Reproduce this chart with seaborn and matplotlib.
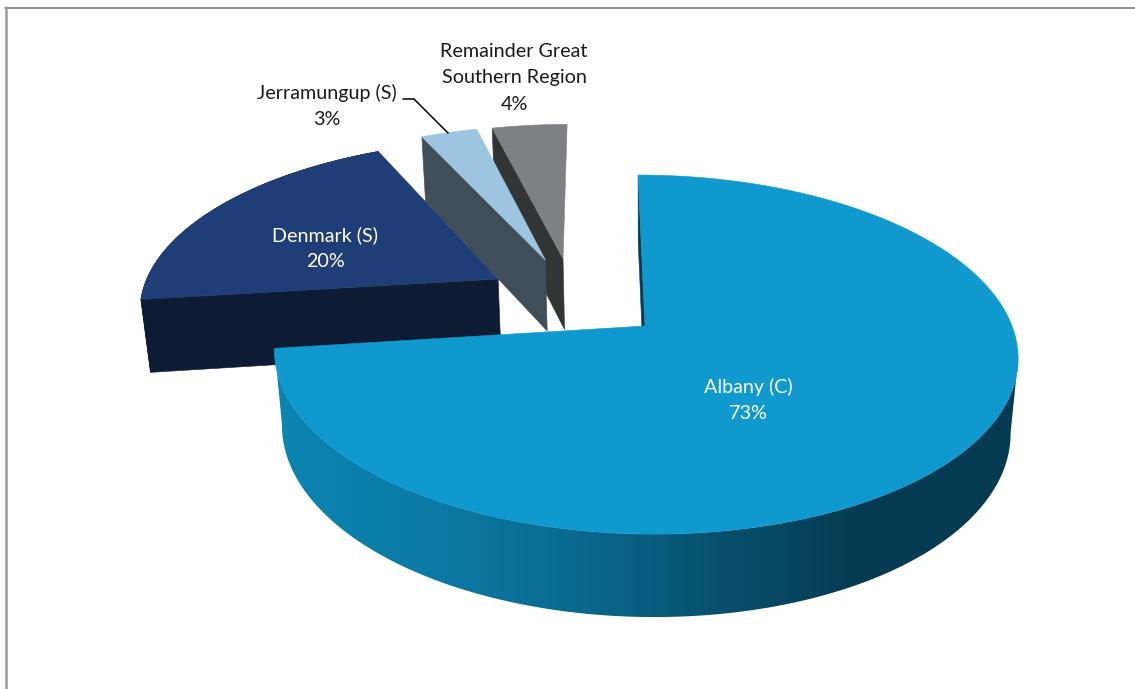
import matplotlib
matplotlib.use("Agg")
import matplotlib.pyplot as plt
from matplotlib.patches import Polygon
import numpy as np
import seaborn as sns

# Data
names = ["Albany (C)", "Denmark (S)", "Jerramungup (S)", "Remainder Great\nSouthern Region"]
shares = [73, 20, 3, 4]

top_colors = ["#0F99CE", "#1F3E78", "#9CC5E2", "#7F8084"]
wall_colors = ["#0C82AE", "#0E1C33", "#3F4E59", "#333535"]
edge_shade = ["#0C84B0", "#0B7BA6", "#0A6A8F", "#07516F", "#053B52", "#053B52"]
text_colors = ["white", "white", "#1A1A1A", "#1A1A1A"]

# how far each slice is pulled out, in units of the pie radius
pull_x = [0.0, -0.412, -0.28, -0.229]
pull_y = [0.0, 0.2805, 0.401, 0.41]
label_pos = [(748, 400), (325, 248), (327, 106), (514, 78)]

# camera
CX, CY = 645, 326
RX, RY = 367, 175
SKEW = -8
PERSP = 0.159
DEPTH, DEPTH_SHRINK = 75.6, 0.02

sns.set_theme(style="white")
plt.rcParams["font.family"] = ["Lato", "DejaVu Sans"]


def project(u, v, z=0.0):
    w = 1 + PERSP * v + DEPTH_SHRINK * z
    return CX + (RX * u + SKEW * v) / w, CY + (-RY * v + DEPTH * z) / w


def rim(deg, pu, pv, z=0.0):
    a = np.radians(deg)
    return project(pu + np.sin(a), pv + np.cos(a), z)


def face(ax, xs, ys, color, zorder):
    ax.fill(xs, ys, facecolor=color, edgecolor=color, lw=0.4, zorder=zorder)


fig, ax = plt.subplots(figsize=(11.35, 6.89), dpi=100)
fig.subplots_adjust(0, 0, 1, 1)
ax.axis("off")

# chart frame, only top and left show
ax.plot([5, 1135], [7.5, 7.5], color="#808080", lw=1.2, zorder=1)
ax.plot([6, 6], [7, 689], color="#9A9A9A", lw=1.8, zorder=1)

bounds = np.cumsum([0] + shares) * 3.6
bands = np.array(sns.blend_palette(edge_shade, n_colors=256))

# far slices first so the nearer ones paint over them
for i in [3, 2, 1, 0]:
    start, end = bounds[i], bounds[i + 1]
    pu, pv = pull_x[i], pull_y[i]
    z0 = 10 + (3 - i) * 3
    angles = np.linspace(start, end, max(int(end - start) * 2, 8))

    rx = [rim(a, pu, pv)[0] for a in angles]
    ry = [rim(a, pu, pv)[1] for a in angles]
    bx = [rim(a, pu, pv, 1)[0] for a in angles]
    by = [rim(a, pu, pv, 1)[1] for a in angles]
    ax0, ay0 = project(pu, pv)
    ax1, ay1 = project(pu, pv, 1)

    if i == 0:
        # outer wall, gradient clipped to the visible outline (rightmost point round to the end)
        px = np.arange(260, 1040)
        t = np.clip((px - 285) / (1000 - 285), 0, 1)
        grad = bands[(t * 255).astype(int)][np.newaxis, :, :]
        im = ax.imshow(grad, extent=(260, 1040, 640, 300), aspect="auto", zorder=z0)
        top_i, bot_i = int(np.argmax(rx)), int(np.argmax(bx))
        outline = Polygon(np.column_stack([rx[top_i:] + bx[bot_i:][::-1],
                                           ry[top_i:] + by[bot_i:][::-1]]),
                          closed=True, transform=ax.transData)
        im.set_clip_path(outline)
        # thin cut face at twelve o'clock
        face(ax, [ax0, rim(0, pu, pv)[0], rim(0, pu, pv, 1)[0], ax1],
             [ay0, rim(0, pu, pv)[1], rim(0, pu, pv, 1)[1], ay1], "#053B52", z0)
    else:
        if i == 1:
            face(ax, rx + bx[::-1], ry + by[::-1], wall_colors[i], z0)
        face(ax, [ax0, rx[0], bx[0], ax1], [ay0, ry[0], by[0], ay1], wall_colors[i], z0)

    xs, ys = zip(*[project(pu, pv)] + [rim(a, pu, pv) for a in angles])
    face(ax, xs, ys, top_colors[i], z0 + 1)

# leader line for Jerramungup
ax.plot([403, 414, 448], [99, 99, 133], color="black", lw=1.1, zorder=30)

for name, share, pos, col in zip(names, shares, label_pos, text_colors):
    ax.text(pos[0], pos[1], f"{name}\n{share}%", color=col, fontsize=14.2,
            ha="center", va="center", linespacing=1.65, zorder=40)

ax.set_xlim(0, 1135)
ax.set_ylim(689, 0)
fig.savefig("out.png", dpi=100)
